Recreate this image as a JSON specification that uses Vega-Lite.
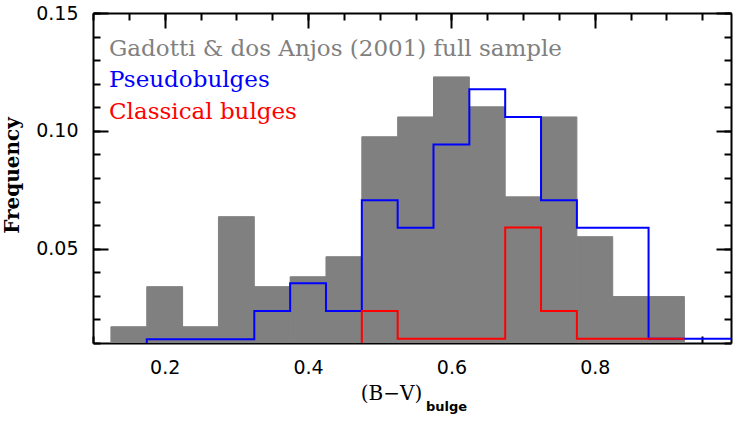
{
  "$schema": "https://vega.github.io/schema/vega-lite/v6.json",
  "autosize": "none",
  "width": 638,
  "height": 330,
  "padding": {"left": 93, "top": 13, "right": 16, "bottom": 79},
  "background": "white",
  "config": {
    "view": {"stroke": null},
    "axis": {"grid": false, "domain": false, "tickColor": "black", "tickWidth": 2, "labelColor": "black", "labelFont": "DejaVu Sans", "labelFontSize": 19, "labelFontWeight": "normal", "zindex": 1, "tickCap": "butt"},
    "legend": {"labelFont": "DejaVu Serif", "labelFontSize": 23, "labelLimit": 0, "symbolSize": 0, "symbolStrokeWidth": 0, "symbolOpacity": 0, "labelOffset": 0, "rowPadding": 7.5}
  },
  "datasets": {
    "full": [
      {"series": "Gadotti & dos Anjos (2001) full sample", "x0": 0.125, "x1": 0.175, "freq": 0.0169},
      {"series": "Gadotti & dos Anjos (2001) full sample", "x0": 0.175, "x1": 0.225, "freq": 0.0339},
      {"series": "Gadotti & dos Anjos (2001) full sample", "x0": 0.225, "x1": 0.275, "freq": 0.0169},
      {"series": "Gadotti & dos Anjos (2001) full sample", "x0": 0.275, "x1": 0.325, "freq": 0.0636},
      {"series": "Gadotti & dos Anjos (2001) full sample", "x0": 0.325, "x1": 0.375, "freq": 0.0339},
      {"series": "Gadotti & dos Anjos (2001) full sample", "x0": 0.375, "x1": 0.425, "freq": 0.0381},
      {"series": "Gadotti & dos Anjos (2001) full sample", "x0": 0.425, "x1": 0.475, "freq": 0.0466},
      {"series": "Gadotti & dos Anjos (2001) full sample", "x0": 0.475, "x1": 0.525, "freq": 0.0975},
      {"series": "Gadotti & dos Anjos (2001) full sample", "x0": 0.525, "x1": 0.575, "freq": 0.1059},
      {"series": "Gadotti & dos Anjos (2001) full sample", "x0": 0.575, "x1": 0.625, "freq": 0.1229},
      {"series": "Gadotti & dos Anjos (2001) full sample", "x0": 0.625, "x1": 0.675, "freq": 0.1102},
      {"series": "Gadotti & dos Anjos (2001) full sample", "x0": 0.675, "x1": 0.725, "freq": 0.072},
      {"series": "Gadotti & dos Anjos (2001) full sample", "x0": 0.725, "x1": 0.775, "freq": 0.1059},
      {"series": "Gadotti & dos Anjos (2001) full sample", "x0": 0.775, "x1": 0.825, "freq": 0.0551},
      {"series": "Gadotti & dos Anjos (2001) full sample", "x0": 0.825, "x1": 0.875, "freq": 0.0297},
      {"series": "Gadotti & dos Anjos (2001) full sample", "x0": 0.875, "x1": 0.925, "freq": 0.0297}
    ],
    "pseudo": [
      {"series": "Pseudobulges", "x0": 0.125, "freq": 0},
      {"series": "Pseudobulges", "x0": 0.175, "freq": 0.0116},
      {"series": "Pseudobulges", "x0": 0.225, "freq": 0.0116},
      {"series": "Pseudobulges", "x0": 0.275, "freq": 0.0116},
      {"series": "Pseudobulges", "x0": 0.325, "freq": 0.0236},
      {"series": "Pseudobulges", "x0": 0.375, "freq": 0.0354},
      {"series": "Pseudobulges", "x0": 0.425, "freq": 0.0236},
      {"series": "Pseudobulges", "x0": 0.475, "freq": 0.0706},
      {"series": "Pseudobulges", "x0": 0.525, "freq": 0.0589},
      {"series": "Pseudobulges", "x0": 0.575, "freq": 0.0942},
      {"series": "Pseudobulges", "x0": 0.625, "freq": 0.1176},
      {"series": "Pseudobulges", "x0": 0.675, "freq": 0.1059},
      {"series": "Pseudobulges", "x0": 0.725, "freq": 0.0706},
      {"series": "Pseudobulges", "x0": 0.775, "freq": 0.0589},
      {"series": "Pseudobulges", "x0": 0.825, "freq": 0.0589},
      {"series": "Pseudobulges", "x0": 0.875, "freq": 0.0118},
      {"series": "Pseudobulges", "x0": 0.925, "freq": 0.0118},
      {"series": "Pseudobulges", "x0": 0.975, "freq": 0.0118},
      {"series": "Pseudobulges", "x0": 1.025, "freq": 0.0118}
    ],
    "classical": [
      {"series": "Classical bulges", "x0": 0.425, "freq": 0},
      {"series": "Classical bulges", "x0": 0.475, "freq": 0.0236},
      {"series": "Classical bulges", "x0": 0.525, "freq": 0.0118},
      {"series": "Classical bulges", "x0": 0.575, "freq": 0.0118},
      {"series": "Classical bulges", "x0": 0.625, "freq": 0.0118},
      {"series": "Classical bulges", "x0": 0.675, "freq": 0.059},
      {"series": "Classical bulges", "x0": 0.725, "freq": 0.0236},
      {"series": "Classical bulges", "x0": 0.775, "freq": 0.0118},
      {"series": "Classical bulges", "x0": 0.825, "freq": 0.0118},
      {"series": "Classical bulges", "x0": 0.875, "freq": 0.0118},
      {"series": "Classical bulges", "x0": 0.925, "freq": 0.0118}
    ]
  },
  "resolve": {"axis": {"x": "independent", "y": "independent"}},
  "layer": [
    {
      "data": {"name": "full"},
      "mark": {"type": "bar", "clip": true, "stroke": "#808080", "strokeWidth": 1},
      "encoding": {
        "x": {"field": "x0", "type": "quantitative",
              "scale": {"domain": [0.1, 0.99], "nice": false, "zero": false},
              "axis": {"orient": "bottom", "values": [0.2, 0.4, 0.6, 0.8], "format": ".1f", "tickSize": -15, "labelPadding": 30,
                       "domain": true, "domainColor": "black", "domainWidth": 2,
                       "title": "(B−V)", "titleFont": "DejaVu Serif", "titleFontSize": 20, "titleFontWeight": "normal", "titleColor": "black",
                       "titleX": 298, "titleY": 40, "titleBaseline": "top", "titleAlign": "center"}},
        "x2": {"field": "x1"},
        "y": {"field": "freq", "type": "quantitative",
              "scale": {"domain": [0.01, 0.15], "nice": false, "zero": false},
              "axis": {"orient": "left", "values": [0.05, 0.1, 0.15], "format": ".2f", "tickSize": -15, "labelPadding": 30,
                       "domain": true, "domainColor": "black", "domainWidth": 2,
                       "title": "Frequency", "titleFont": "DejaVu Serif", "titleFontSize": 20, "titleFontWeight": "bold", "titleColor": "black",
                       "titleX": -81, "titleY": 162, "titleBaseline": "middle", "titleAlign": "center", "titleAngle": -90}},
        "y2": {"datum": 0},
        "color": {"field": "series", "type": "nominal",
                  "scale": {"domain": ["Gadotti & dos Anjos (2001) full sample", "Pseudobulges", "Classical bulges"], "range": ["#808080", "#0000ff", "#ff0000"]},
                  "legend": {"title": null, "orient": "none", "legendX": -7, "legendY": 24,
                             "labelColor": {"expr": "datum.label === 'Pseudobulges' ? '#0000ff' : datum.label === 'Classical bulges' ? '#ff0000' : '#808080'"}}}
      }
    },
    {
      "data": {"name": "pseudo"},
      "mark": {"type": "line", "interpolate": "step-after", "clip": true, "strokeWidth": 2},
      "encoding": {
        "x": {"field": "x0", "type": "quantitative",
              "axis": {"orient": "bottom", "values": [0.1, 0.15, 0.2, 0.25, 0.3, 0.35, 0.4, 0.45, 0.5, 0.55, 0.6, 0.65, 0.7, 0.75, 0.8, 0.85, 0.9, 0.95], "tickSize": -7, "labels": false,
                       "title": "bulge", "titleFont": "DejaVu Sans", "titleFontSize": 13, "titleFontWeight": "bold", "titleColor": "black",
                       "titleX": 353, "titleY": 57, "titleBaseline": "top", "titleAlign": "center"}},
        "y": {"field": "freq", "type": "quantitative",
              "axis": {"orient": "left", "values": [0.01, 0.02, 0.03, 0.04, 0.05, 0.06, 0.07, 0.08, 0.09, 0.1, 0.11, 0.12, 0.13, 0.14, 0.15], "tickSize": -7, "labels": false, "title": null}},
        "color": {"field": "series", "type": "nominal"}
      }
    },
    {
      "data": {"name": "classical"},
      "mark": {"type": "line", "interpolate": "step-after", "clip": true, "strokeWidth": 2},
      "encoding": {
        "x": {"field": "x0", "type": "quantitative",
              "axis": {"orient": "top", "values": [0.2, 0.4, 0.6, 0.8], "tickSize": -15, "labels": false, "title": null,
                       "domain": true, "domainColor": "black", "domainWidth": 2}},
        "y": {"field": "freq", "type": "quantitative",
              "axis": {"orient": "right", "values": [0.05, 0.1, 0.15], "tickSize": -15, "labels": false, "title": null,
                       "domain": true, "domainColor": "black", "domainWidth": 2}},
        "color": {"field": "series", "type": "nominal"}
      }
    },
    {
      "data": {"name": "full"},
      "mark": {"type": "point", "opacity": 0, "clip": true},
      "encoding": {
        "x": {"field": "x0", "type": "quantitative",
              "axis": {"orient": "top", "values": [0.1, 0.15, 0.2, 0.25, 0.3, 0.35, 0.4, 0.45, 0.5, 0.55, 0.6, 0.65, 0.7, 0.75, 0.8, 0.85, 0.9, 0.95], "tickSize": -7, "labels": false, "title": null}},
        "y": {"field": "freq", "type": "quantitative",
              "axis": {"orient": "right", "values": [0.01, 0.02, 0.03, 0.04, 0.05, 0.06, 0.07, 0.08, 0.09, 0.1, 0.11, 0.12, 0.13, 0.14, 0.15], "tickSize": -7, "labels": false, "title": null}}
      }
    }
  ]
}
